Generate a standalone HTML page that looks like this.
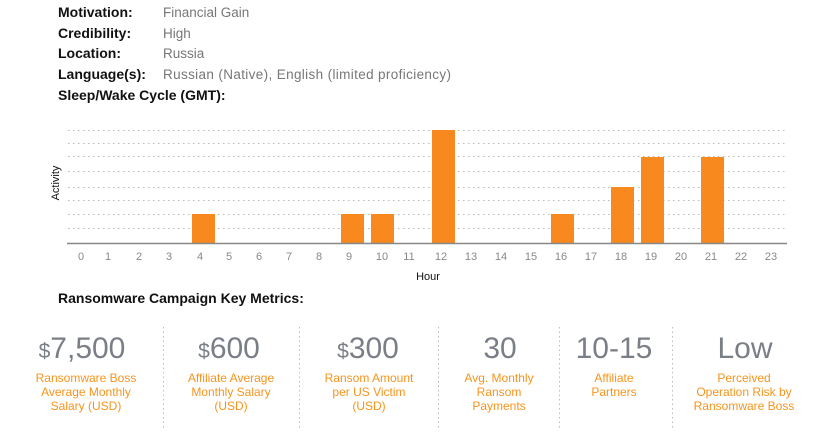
<!DOCTYPE html>
<html><head><meta charset="utf-8"><style>
html,body{margin:0;padding:0;background:#fff;}
svg{display:block;font-family:"Liberation Sans",sans-serif;}
</style></head><body>
<svg width="825" height="439" viewBox="0 0 825 439" xmlns="http://www.w3.org/2000/svg">
<g font-size="14" font-weight="bold" fill="#111">
<text x="58" y="17">Motivation:</text>
<text x="58" y="38">Credibility:</text>
<text x="58" y="58">Location:</text>
<text x="58" y="79">Language(s):</text>
<text x="58" y="100">Sleep/Wake Cycle (GMT):</text>
</g>
<g font-size="13.5" fill="#777">
<text x="163" y="17">Financial Gain</text>
<text x="163" y="38">High</text>
<text x="163" y="58">Russia</text>
<text x="163" y="79" textLength="288">Russian (Native), English (limited proficiency)</text>
</g>
<g stroke="#bbb" stroke-width="1" stroke-dasharray="1.5,3.5">
<line x1="68" x2="787" y1="130.5" y2="130.5"/>
<line x1="68" x2="787" y1="143.5" y2="143.5"/>
<line x1="68" x2="787" y1="156.5" y2="156.5"/>
<line x1="68" x2="787" y1="171.5" y2="171.5"/>
<line x1="68" x2="787" y1="187.5" y2="187.5"/>
<line x1="68" x2="787" y1="200.5" y2="200.5"/>
<line x1="68" x2="787" y1="214.5" y2="214.5"/>
<line x1="68" x2="787" y1="228.5" y2="228.5"/>
</g>
<g fill="#f7891f">
<rect x="192" y="214" width="23" height="29"/>
<rect x="341" y="214" width="23" height="29"/>
<rect x="371" y="214" width="23" height="29"/>
<rect x="432" y="130" width="23" height="113"/>
<rect x="551" y="214" width="23" height="29"/>
<rect x="611" y="187" width="23" height="56"/>
<rect x="641" y="157" width="23" height="86"/>
<rect x="701" y="157" width="23" height="86"/>
</g>
<line x1="67" x2="787" y1="243.5" y2="243.5" stroke="#888" stroke-width="1.5"/>
<g font-size="11" fill="#888" text-anchor="middle">
<text x="81" y="260">0</text><text x="108" y="260">1</text><text x="139" y="260">2</text><text x="169" y="260">3</text>
<text x="200" y="260">4</text><text x="229" y="260">5</text><text x="259" y="260">6</text><text x="289" y="260">7</text>
<text x="319" y="260">8</text><text x="349" y="260">9</text><text x="382" y="260">10</text><text x="409" y="260">11</text>
<text x="441" y="260">12</text><text x="471" y="260">13</text><text x="501" y="260">14</text><text x="531" y="260">15</text>
<text x="561" y="260">16</text><text x="591" y="260">17</text><text x="621" y="260">18</text><text x="651" y="260">19</text>
<text x="681" y="260">20</text><text x="711" y="260">21</text><text x="741" y="260">22</text><text x="771" y="260">23</text>
</g>
<text x="428" y="280" font-size="11" fill="#111" text-anchor="middle">Hour</text>
<text x="0" y="0" font-size="11" fill="#111" text-anchor="middle" transform="translate(59,183) rotate(-90)">Activity</text>
<text x="58" y="303" font-size="14" font-weight="bold" fill="#111">Ransomware Campaign Key Metrics:</text>
<g stroke="#bbb" stroke-width="1" stroke-dasharray="1.5,3">
<line x1="163.5" x2="163.5" y1="327" y2="428"/>
<line x1="299.5" x2="299.5" y1="327" y2="428"/>
<line x1="438.5" x2="438.5" y1="327" y2="428"/>
<line x1="559.5" x2="559.5" y1="327" y2="428"/>
<line x1="672.5" x2="672.5" y1="327" y2="428"/>
</g>
<g fill="#7a7e86" text-anchor="middle" font-size="30">
<text x="82" y="358"><tspan font-size="21">$</tspan>7,500</text>
<text x="229" y="358"><tspan font-size="21">$</tspan>600</text>
<text x="368" y="358"><tspan font-size="21">$</tspan>300</text>
<text x="500" y="358">30</text>
<text x="614" y="358">10-15</text>
<text x="745" y="358">Low</text>
</g>
<g fill="#f7941d" text-anchor="middle" font-size="12">
<text x="86" y="382">Ransomware Boss</text><text x="86" y="396">Average Monthly</text><text x="86" y="410">Salary (USD)</text>
<text x="231" y="382">Affiliate Average</text><text x="231" y="396">Monthly Salary</text><text x="231" y="410">(USD)</text>
<text x="369" y="382">Ransom Amount</text><text x="369" y="396">per US Victim</text><text x="369" y="410">(USD)</text>
<text x="499" y="382">Avg. Monthly</text><text x="499" y="396">Ransom</text><text x="499" y="410">Payments</text>
<text x="614" y="382">Affiliate</text><text x="614" y="396">Partners</text>
<text x="744" y="382">Perceived</text><text x="744" y="396">Operation Risk by</text><text x="744" y="410">Ransomware Boss</text>
</g>
</svg>
</body></html>
